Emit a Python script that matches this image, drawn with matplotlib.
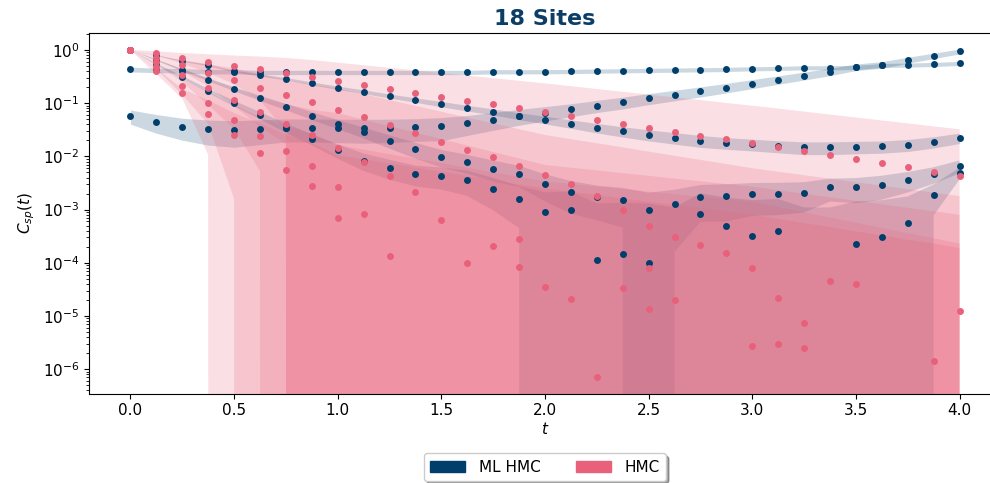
import matplotlib.pyplot as plt
from matplotlib.patches import Patch
import numpy as np

# time slices
t = np.linspace(0, 4, 33)

# ---- ML HMC: 5 operators, value and error (neg = not visible on log axis)
ml_a = [0.433, 0.415, 0.409, 0.392, 0.392, 0.380, 0.380, 0.380, 0.380, 0.380, 0.380,
        0.380, 0.380, 0.380, 0.392, 0.392, 0.392, 0.397, 0.403, 0.409, 0.415, 0.421,
        0.427, 0.433, 0.446, 0.452, 0.466, 0.466, 0.472, 0.515, 0.522, 0.538, 0.562]
ml_b = [0.0575, 0.0443, 0.0362, 0.0323, 0.0309, 0.0327, 0.0347, 0.0347, 0.0342, 0.0337,
        0.0342, 0.0352, 0.0367, 0.0418, 0.0490, 0.0575, 0.0664, 0.0767, 0.0899, 0.104,
        0.123, 0.143, 0.167, 0.196, 0.233, 0.277, 0.329, 0.392, 0.479, 0.530, 0.649,
        0.782, 0.944]
ml_c = [1.0, 0.805, 0.630, 0.522, 0.403, 0.339, 0.289, 0.236, 0.196, 0.165, 0.137,
        0.115, 0.0966, 0.0813, 0.0693, 0.0575, 0.0490, 0.0412, 0.0347, 0.0296, 0.0256,
        0.0225, 0.0198, 0.0181, 0.0169, 0.0157, 0.0148, 0.0148, 0.0152, 0.0155, 0.0166,
        0.0189, 0.0225]
ml_d = [1.0, 0.649, 0.421, 0.277, 0.185, 0.125, 0.0861, 0.0583, 0.0406, 0.0283, 0.0195,
        0.0136, 0.00975, 0.00773, 0.00588, 0.00467, 0.00303, 0.00214, 0.00173, 0.00151,
        0.000982, 0.00126, 0.00175, 0.00180, 0.00196, 0.00199, 0.00208, 0.00262, 0.00262,
        0.00294, 0.00360, 0.00467, 0.00660]
ml_e = [1.0, 0.538, 0.306, 0.172, 0.0994, 0.0591, 0.0347, 0.0212, 0.0130, 0.00832,
        0.00614, 0.00473, 0.00428, 0.00360, 0.00247, 0.00161, 0.000914, 0.000997,
        0.000113, 0.000146, 0.000101, -0.0001, 0.000839, 0.000484, 0.000314, 0.000390,
        -0.0001, -0.0001, 0.000222, 0.000305, 0.000568, 0.00188, 0.0049]

ml_a_err = [0.045, 0.04, 0.04, 0.038, 0.036, 0.035, 0.035, 0.035, 0.035, 0.035, 0.035,
            0.035, 0.035, 0.035, 0.036, 0.036, 0.036, 0.036, 0.037, 0.037, 0.038, 0.038,
            0.039, 0.039, 0.04, 0.04, 0.041, 0.042, 0.043, 0.044, 0.046, 0.048, 0.05]
ml_b_err = [0.017, 0.017, 0.016, 0.016, 0.016, 0.016, 0.016, 0.016, 0.016, 0.016, 0.016,
            0.016, 0.017, 0.017, 0.018, 0.019, 0.02, 0.021, 0.023, 0.026, 0.029, 0.032,
            0.036, 0.04, 0.045, 0.05, 0.056, 0.062, 0.068, 0.075, 0.083, 0.091, 0.1]
ml_c_err = [0.0, 0.012, 0.015, 0.016, 0.016, 0.016, 0.015, 0.015, 0.014, 0.013, 0.012,
            0.011, 0.011, 0.01, 0.009, 0.0085, 0.008, 0.0075, 0.007, 0.0065, 0.006, 0.0055,
            0.005, 0.0045, 0.0042, 0.004, 0.004, 0.004, 0.004, 0.004, 0.0042, 0.0045, 0.005]
ml_d_err = [0.0, 0.02, 0.02, 0.018, 0.016, 0.014, 0.012, 0.01, 0.008, 0.0065, 0.0055,
            0.0045, 0.0035, 0.003, 0.0025, 0.002, 0.0016, 0.0013, 0.0011, 0.00105, 0.0011,
            0.0011, 0.00116, 0.0012, 0.0012, 0.0012, 0.0012, 0.0012, 0.0013, 0.0014,
            0.0015, 0.0016, 0.0018]
ml_e_err = [0.0, 0.02, 0.018, 0.015, 0.012, 0.009, 0.007, 0.005, 0.004, 0.003, 0.0025,
            0.002, 0.0019, 0.0018, 0.0015, 0.00116, 0.0012, 0.0012, 0.0012, 0.0012, 0.0012,
            0.0012, 0.0012, 0.0012, 0.0012, 0.0012, 0.0012, 0.0012, 0.0012, 0.0012, 0.0012,
            0.0011, 0.0012]

# ---- HMC: 5 operators, value plus lower / upper band edge (0 = below zero)
nan = np.nan
hmc_1 = [1.0, 0.866, 0.718, 0.604, 0.508, 0.433, 0.370, 0.311, 0.261, 0.223, 0.185,
         0.158, 0.133, 0.112, 0.0952, 0.0801, 0.0673, 0.0566, 0.0483, 0.0406, 0.0342,
         0.0287, 0.0242, 0.0209, 0.0176, 0.0150, 0.0126, 0.0106, 0.00881, 0.00741,
         0.00623, 0.00516, 0.00434]
hmc_2 = [1.0, 0.718, 0.522, 0.375, 0.269, 0.196, 0.145, 0.105, 0.0756, 0.0542, 0.0389,
         0.0271, 0.0189, 0.0132, 0.0096, 0.0067, 0.00447, 0.00299, 0.0018, 0.000968,
         0.000499, 0.000305, 0.000219, 0.000153, 0.0000798, 0.0000221, 0.0000075,
         0.0000449, 0.00004, nan, nan, 0.00000141, 0.0000122]
hmc_3 = [1.0, 0.604, 0.339, 0.193, 0.113, 0.0673, 0.0412, 0.0249, 0.0142, 0.00796,
         0.00434, 0.00217, 0.000647, 0.0000991, 0.000207, 0.000284, 0.0000356,
         0.0000212, 7.0e-7, 0.0000341, 0.0000798, 0.00002, nan, nan, 0.00000273,
         0.00000298, 0.00000254, nan, nan, nan, nan, nan, nan]
hmc_4 = [1.0, 0.486, 0.214, 0.101, 0.0476, 0.0238, 0.0125, 0.0066, 0.0027, 0.000839,
         0.000136, nan, nan, nan, nan, 0.0000845, nan, nan, nan, nan, 0.0000137, nan,
         nan, nan, nan, nan, nan, nan, nan, nan, nan, nan, nan]
hmc_5 = [1.0, 0.403, 0.155, 0.0618, 0.0256, 0.0114, 0.00555, 0.00282, 0.000705, nan,
         nan, nan, nan, nan, nan, nan, nan, nan, nan, nan, nan, nan, nan, nan, nan, nan,
         nan, nan, nan, nan, nan, nan, nan]

hmc_1_lo = [1.0, 0.786, 0.558, 0.374, 0.228, 0.113, 0.03] + [0] * 26
hmc_2_lo = [1.0, 0.658, 0.402, 0.205, 0.089, 0.036, 0.017] + [0] * 26
hmc_3_lo = [1.0, 0.544, 0.249, 0.093, 0.033, 0.0053] + [0] * 27
hmc_4_lo = [1.0, 0.436, 0.144, 0.041, 0.0016] + [0] * 28
hmc_5_lo = [1.0, 0.353, 0.123, 0.0108] + [0] * 29

hmc_1_hi = [1.0, 0.946, 0.878, 0.834, 0.788, 0.753, 0.71, 0.649, 0.579, 0.518, 0.463,
            0.414, 0.370, 0.330, 0.296, 0.264, 0.236, 0.209, 0.185, 0.164, 0.146, 0.129,
            0.115, 0.101, 0.0899, 0.0794, 0.0697, 0.0612, 0.054, 0.0474, 0.0418, 0.0367,
            0.0324]
hmc_2_hi = [1.0, 0.778, 0.642, 0.545, 0.449, 0.356, 0.273, 0.225, 0.190, 0.148, 0.115,
            0.0891, 0.0693, 0.0538, 0.0419, 0.0325, 0.0253, 0.0211, 0.0177, 0.0148, 0.0123,
            0.0103, 0.0086, 0.0072, 0.0060, 0.00516, 0.00444, 0.00382, 0.00328, 0.00282,
            0.00243, 0.00209, 0.0018]
hmc_3_hi = [1.0, 0.664, 0.429, 0.293, 0.193, 0.129, 0.096, 0.075, 0.065, 0.0491, 0.0371,
            0.0281, 0.0212, 0.0160, 0.0121, 0.00914, 0.0069, 0.00614, 0.00546, 0.00485,
            0.00432, 0.00384, 0.00341, 0.00303, 0.0027, 0.00232, 0.00199, 0.00171, 0.00147,
            0.00126, 0.00108, 0.00093, 0.0008]
hmc_4_hi = [1.0, 0.536, 0.284, 0.161, 0.094, 0.054, 0.0375, 0.0266, 0.0163, 0.0134,
            0.0110, 0.00906, 0.00745, 0.00611, 0.00502, 0.00413, 0.0034, 0.00304, 0.00272,
            0.00244, 0.00218, 0.00195, 0.00175, 0.00156, 0.0014, 0.00112, 0.00089, 0.00071,
            0.00057, 0.00045, 0.00036, 0.00029, 0.00023]
hmc_5_hi = [1.0, 0.453, 0.187, 0.113, 0.0656, 0.0414, 0.0256, 0.0178, 0.0106, 0.00885,
            0.00738, 0.00617, 0.00514, 0.0043, 0.00359, 0.00299, 0.0025, 0.00217, 0.00188,
            0.00163, 0.00141, 0.00123, 0.00106, 0.00092, 0.0008, 0.00067, 0.00056, 0.00047,
            0.00039, 0.00033, 0.00027, 0.00023, 0.00019]

ml_color = '#003f6b'
hmc_color = '#e9607a'

fig = plt.figure(figsize=(9.9, 4.83), dpi=100)
ax = fig.add_axes([89 / 990, 1 - 393.5 / 483, 912 / 990, 360.5 / 483])
ax.set_yscale('log')

ml = [(ml_a, ml_a_err), (ml_b, ml_b_err), (ml_c, ml_c_err), (ml_d, ml_d_err), (ml_e, ml_e_err)]
for val, err in ml:
    val = np.array(val)
    err = np.array(err)
    ax.fill_between(t, val - err, val + err, color=ml_color, alpha=0.2, lw=0, zorder=1)

hmc = [(hmc_1, hmc_1_lo, hmc_1_hi), (hmc_2, hmc_2_lo, hmc_2_hi), (hmc_3, hmc_3_lo, hmc_3_hi),
       (hmc_4, hmc_4_lo, hmc_4_hi), (hmc_5, hmc_5_lo, hmc_5_hi)]
for val, lo, hi in hmc:
    ax.fill_between(t, lo, hi, color=hmc_color, alpha=0.2, lw=0, zorder=1)

for val, err in ml:
    val = np.array(val)
    ax.scatter(t[val > 0], val[val > 0], s=25, color=ml_color, lw=0, zorder=3)
for val, lo, hi in hmc:
    val = np.array(val)
    ok = ~np.isnan(val)
    ax.scatter(t[ok], val[ok], s=25, color=hmc_color, lw=0, zorder=4)

ax.set_xlim(-0.2, 4.2)
ax.set_ylim(3.5e-7, 2.09)
ax.set_xticks([0.0, 0.5, 1.0, 1.5, 2.0, 2.5, 3.0, 3.5, 4.0])
ax.tick_params(labelsize=11)
ax.set_xlabel('$t$', fontsize=11, labelpad=2)
ax.set_ylabel('$C_{sp}(t)$', fontsize=11)
ax.set_title('18 Sites', fontsize=16, fontweight='bold', color='#0b3d66')

handles = [Patch(color=ml_color, label='ML HMC'), Patch(color=hmc_color, label='HMC')]
ax.legend(handles=handles, loc='upper center', bbox_to_anchor=(0.5, -0.145), ncol=2,
          shadow=True, fontsize=11, handlelength=2.3, handletextpad=0.9,
          columnspacing=2.3)

fig.savefig('out.png', dpi=100)
